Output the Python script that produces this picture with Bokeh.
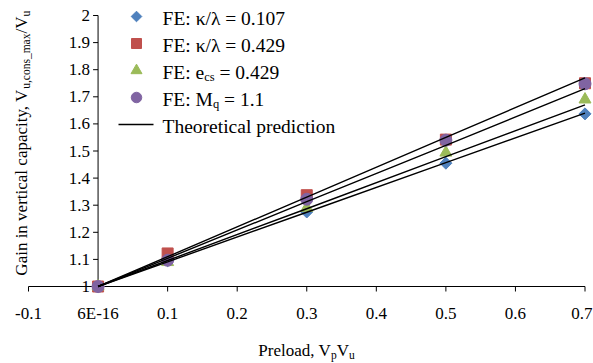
from math import pi

from bokeh.plotting import figure
from bokeh.models import Range1d
from bokeh.core.properties import value
from bokeh.embed import file_html
from bokeh.resources import INLINE

# ---- data -------------------------------------------------------------
preload = [0.0, 0.1, 0.3, 0.5, 0.7]

fe_kappa_0107 = [1.0, 1.095, 1.275, 1.455, 1.637]
fe_kappa_0429 = [1.0, 1.122, 1.337, 1.542, 1.750]
fe_ecs_0429 = [1.0, 1.090, 1.290, 1.494, 1.690]
fe_mq_11 = [1.0, 1.097, 1.322, 1.540, 1.748]

theory_1 = [1.0, 1.110, 1.330, 1.550, 1.770]
theory_2 = [1.0, 1.104, 1.313, 1.521, 1.730]
theory_3 = [1.0, 1.096, 1.287, 1.479, 1.670]
theory_4 = [1.0, 1.091, 1.274, 1.457, 1.640]

x_ticks = [-0.1, 0.0, 0.1, 0.2, 0.3, 0.4, 0.5, 0.6, 0.7]
x_tick_labels = ["-0.1", "6E-16", "0.1", "0.2", "0.3", "0.4", "0.5", "0.6", "0.7"]
y_ticks = [1.0, 1.1, 1.2, 1.3, 1.4, 1.5, 1.6, 1.7, 1.8, 1.9, 2.0]
y_tick_labels = ["1", "1.1", "1.2", "1.3", "1.4", "1.5", "1.6", "1.7", "1.8", "1.9", "2"]

# ---- styling ----------------------------------------------------------
FONT = "Liberation Serif"
BLUE, RED, GREEN, PURPLE = "#4F81BD", "#C0504D", "#9BBB59", "#8064A2"

W, H = 593, 363
X_LO, X_HI = -0.1, 0.7          # horizontal axis extent
PX_X_LO, PX_X_HI = 28, 584.5    # canvas columns of that extent
Y_LO, Y_HI = 1.0, 2.0           # vertical axis extent
PX_Y_LO, PX_Y_HI = 286, 15      # canvas rows of that extent

KX = (PX_X_HI - PX_X_LO) / (X_HI - X_LO)
KY = (PX_Y_LO - PX_Y_HI) / (Y_HI - Y_LO)


def dx(px):
    """Canvas column -> data x."""
    return X_LO + (px - PX_X_LO) / KX


def dy(py):
    """Canvas row -> data y."""
    return Y_LO + (PX_Y_LO - py) / KY


def cx(x):
    """Data x -> canvas column."""
    return PX_X_LO + (x - X_LO) * KX


def cy(y):
    """Data y -> canvas row."""
    return PX_Y_LO - (y - Y_LO) * KY


# Times-compatible advance widths (per 1000 em) for laying out text runs
TIMES = {" ": 250, ",": 250, ".": 250, "/": 278, ":": 278, "=": 564, "_": 500,
         "-": 333, "E": 611, "F": 556, "G": 722, "M": 889, "P": 556, "T": 611,
         "V": 722, "a": 444, "c": 444, "d": 500, "e": 444, "h": 500, "i": 278,
         "l": 278, "m": 778, "n": 500, "o": 500, "p": 500, "q": 500, "r": 333,
         "s": 389, "t": 278, "u": 500, "v": 500, "x": 500, "y": 500}


def text_width(s, size):
    return sum(TIMES.get(ch, 500) for ch in s) * size / 1000.0


# the plotting frame spans the whole canvas; the crossing axes are drawn in it
p = figure(width=W, height=H, output_backend="svg", toolbar_location=None,
           x_axis_type=None, y_axis_type=None,
           x_range=Range1d(dx(0), dx(W)), y_range=Range1d(dy(H), dy(0)),
           min_border_left=0, min_border_right=0,
           min_border_top=0, min_border_bottom=0)
p.outline_line_color = None
p.background_fill_color = "white"
p.border_fill_color = "white"

TICK = 5
TICK_SIZE = 17
TICK_FONT = f"{TICK_SIZE}px"

# horizontal axis at y = 1
p.segment(x0=[X_LO], y0=[Y_LO], x1=[X_HI], y1=[Y_LO], line_color="black", line_width=1)
p.segment(x0=x_ticks, y0=[Y_LO] * len(x_ticks), x1=x_ticks,
          y1=[dy(cy(Y_LO) + TICK)] * len(x_ticks), line_color="black", line_width=1)
# tick labels are centred under their ticks, but kept inside the right edge
label_x = []
for t, lab in zip(x_ticks, x_tick_labels):
    half = text_width(lab, TICK_SIZE) / 2
    label_x.append(dx(min(cx(t), W - 1 - half)))
p.text(x=label_x, y=[dy(313)] * len(x_ticks), text=x_tick_labels,
       text_font=value(FONT), text_font_size=TICK_FONT, text_color="black",
       text_align="center", text_baseline="middle")

# vertical axis at x = 0
p.segment(x0=[0.0], y0=[Y_LO], x1=[0.0], y1=[Y_HI], line_color="black", line_width=1)
p.segment(x0=[0.0] * len(y_ticks), y0=y_ticks, x1=[dx(cx(0.0) - TICK)] * len(y_ticks),
          y1=y_ticks, line_color="black", line_width=1)
p.text(x=[dx(cx(0.0) - TICK - 3)] * len(y_ticks), y=y_ticks, text=y_tick_labels,
       text_font=value(FONT), text_font_size=TICK_FONT, text_color="black",
       text_align="right", text_baseline="middle")

# ---- FE results -------------------------------------------------------
p.scatter(preload, fe_kappa_0107, marker="square", angle=pi / 4, size=8.5,
          fill_color=BLUE, line_color=BLUE)
p.scatter(preload, fe_kappa_0429, marker="square", size=11,
          fill_color=RED, line_color=RED)
p.scatter(preload, fe_ecs_0429, marker="triangle", size=12,
          fill_color=GREEN, line_color=GREEN)
p.scatter(preload, fe_mq_11, marker="circle", size=12,
          fill_color=PURPLE, line_color=PURPLE)

# ---- theoretical predictions -----------------------------------------
for series in (theory_1, theory_2, theory_3, theory_4):
    p.line(preload, series, line_color="black", line_width=1.4)


def run(pieces, px, py, angle=0.0):
    """Lay out a run of (text, size, shift) pieces, left to right or upward.

    px, py: canvas position of the start of the run, on the text's mid line.
    shift: offset of a piece's mid line (positive = towards the baseline side).
    """
    pos = 0.0
    for text, size, shift in pieces:
        lead = len(text) - len(text.lstrip(" "))
        pos += text_width(" " * lead, size)
        body = text.strip(" ")
        w = text_width(body, size)
        if angle == 0.0:
            x, y = dx(px + pos + w / 2), dy(py + shift)
        else:
            x, y = dx(px + shift), dy(py - pos - w / 2)
        p.text(x=[x], y=[y], text=[body], angle=angle,
               text_font=value(FONT), text_font_size=f"{size}px",
               text_color="black", text_align="center", text_baseline="middle")
        pos += w


# ---- legend ------------------------------------------------------------
LEG_SIZE = 19.5
SUB_SIZE = 12.5
leg_marker_px = 136
leg_text_px = 162
rows_py = [16, 43, 70, 97, 124]

p.scatter([dx(leg_marker_px)], [dy(rows_py[0])], marker="square", angle=pi / 4,
          size=7.5, fill_color=BLUE, line_color=BLUE)
p.scatter([dx(leg_marker_px)], [dy(rows_py[1])], marker="square", size=10,
          fill_color=RED, line_color=RED)
p.scatter([dx(leg_marker_px)], [dy(rows_py[2])], marker="triangle", size=11,
          fill_color=GREEN, line_color=GREEN)
p.scatter([dx(leg_marker_px)], [dy(rows_py[3])], marker="circle", size=10.5,
          fill_color=PURPLE, line_color=PURPLE)
p.line([dx(118), dx(153)], [dy(rows_py[4])] * 2, line_color="black", line_width=1.4)

mid = 1.5
run([("FE: \u03ba/\u03bb = 0.107", LEG_SIZE, 0)], leg_text_px, rows_py[0] + mid)
run([("FE: \u03ba/\u03bb = 0.429", LEG_SIZE, 0)], leg_text_px, rows_py[1] + mid)
run([("FE: e", LEG_SIZE, 0), ("cs", SUB_SIZE, 5), (" = 0.429", LEG_SIZE, 0)],
    leg_text_px, rows_py[2] + mid)
run([("FE: M", LEG_SIZE, 0), ("q", SUB_SIZE, 5), (" = 1.1", LEG_SIZE, 0)],
    leg_text_px, rows_py[3] + mid)
run([("Theoretical prediction", LEG_SIZE, 0)], leg_text_px, rows_py[4] + mid)

# ---- axis titles -----------------------------------------------------------
TITLE_SIZE = 17
TITLE_SUB = 11.5
x_title = [("Preload, V", TITLE_SIZE, 0), ("p", TITLE_SUB, 4.5),
           ("V", TITLE_SIZE, 0), ("u", TITLE_SUB, 4.5)]
x_title_w = sum(text_width(t, s) for t, s, _ in x_title)
run(x_title, 306 - x_title_w / 2, 350)

y_title = [("Gain in vertical capacity, V", TITLE_SIZE, 0),
           ("u,cons_max", TITLE_SUB, 4.5), ("/V", TITLE_SIZE, 0), ("u", TITLE_SUB, 4.5)]
y_title_w = sum(text_width(t, s) for t, s, _ in y_title)
run(y_title, 21, 143 + y_title_w / 2, angle=pi / 2)

open("out.html", "w").write(file_html(p, INLINE))
